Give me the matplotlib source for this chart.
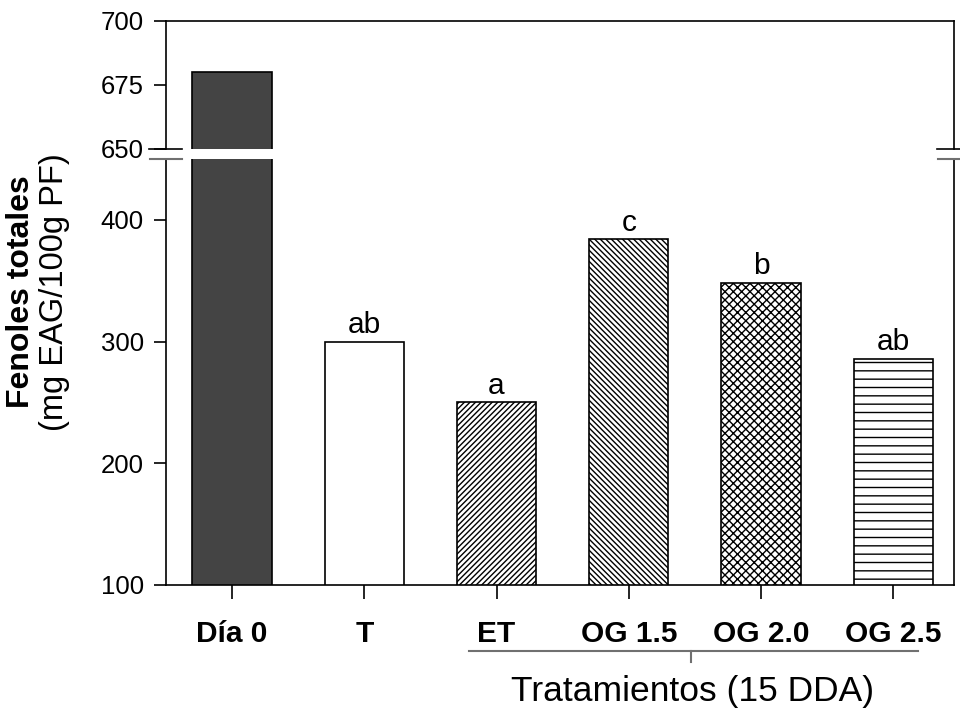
import matplotlib
matplotlib.use("Agg")
import matplotlib.pyplot as plt
from matplotlib.lines import Line2D

plt.rcParams['font.family'] = ['Liberation Sans', 'DejaVu Sans']
plt.rcParams['hatch.linewidth'] = 1.0

categories = ["Día 0", "T", "ET", "OG 1.5", "OG 2.0", "OG 2.5"]
values = [680, 300, 250, 384, 348, 286]
letters = ["", "ab", "a", "c", "b", "ab"]
colors = ["#444444", "white", "white", "white", "white", "white"]
hatches = [None, None, "//////", "\\\\\\\\\\\\", "xxxx", "--"]
lower_ticks = [100, 200, 300, 400]
upper_ticks = [650, 675, 700]

W, H = 960, 719
fig = plt.figure(figsize=(W / 100, H / 100), dpi=100)

def fx(px):
    return px / W

def fy(py):
    return 1 - py / H

left, right = 166, 954
ax_lo = fig.add_axes([fx(left), fy(585), fx(right - left), fy(159) - fy(585)])
ax_hi = fig.add_axes([fx(left), fy(149), fx(right - left), fy(21) - fy(149)])

xs = list(range(len(categories)))
for ax in (ax_lo, ax_hi):
    ax.bar(xs, values, width=0.6, color=colors, edgecolor="black",
           linewidth=1.2, hatch=hatches, zorder=2)
    ax.set_xlim(-0.5, 5.46)
    for s in ax.spines.values():
        s.set_linewidth(1.2)
    ax.tick_params(axis='y', direction='out', length=9, width=1.2,
                   labelsize=18.5, pad=7)

ax_lo.set_ylim(100, 450)
ax_lo.set_yticks(lower_ticks)
ax_lo.spines['top'].set_visible(False)
ax_lo.set_xticks(xs)
ax_lo.set_xticklabels(categories, fontsize=21.5, fontweight='bold')
ax_lo.tick_params(axis='x', direction='out', length=10, width=1.2, pad=15)

ax_hi.set_ylim(650, 700)
ax_hi.set_yticks(upper_ticks)
ax_hi.spines['bottom'].set_visible(False)
ax_hi.set_xticks([])

for x, v, t in zip(xs, values, letters):
    if t:
        ax_lo.annotate(t, (x, v), xytext=(0, 2), textcoords='offset points',
                       ha='center', va='bottom', fontsize=21.5)

# axis break marks
for xc in (left, right):
    fig.add_artist(Line2D([fx(xc - 17), fx(xc + 16)], [fy(149), fy(149)],
                          color='black', lw=1.2))
    fig.add_artist(Line2D([fx(xc - 16), fx(xc + 16)], [fy(159), fy(159)],
                          color='#707070', lw=1.5))

# y label (two lines)
fig.text(fx(21), fy(292), "Fenoles totales", rotation=90, ha='center',
         va='center', fontsize=23, fontweight='bold')
fig.text(fx(54), fy(292), "(mg EAG/100g PF)", rotation=90, ha='center',
         va='center', fontsize=23.5)

# treatment bracket
fig.add_artist(Line2D([fx(469), fx(918)], [fy(651), fy(651)],
                      color='#707070', lw=1.5))
fig.add_artist(Line2D([fx(691), fx(691)], [fy(651), fy(662)],
                      color='#707070', lw=1.5))
fig.text(fx(693), fy(692), "Tratamientos (15 DDA)", ha='center',
         va='center', fontsize=25.5)

fig.savefig("out.png", dpi=100)
